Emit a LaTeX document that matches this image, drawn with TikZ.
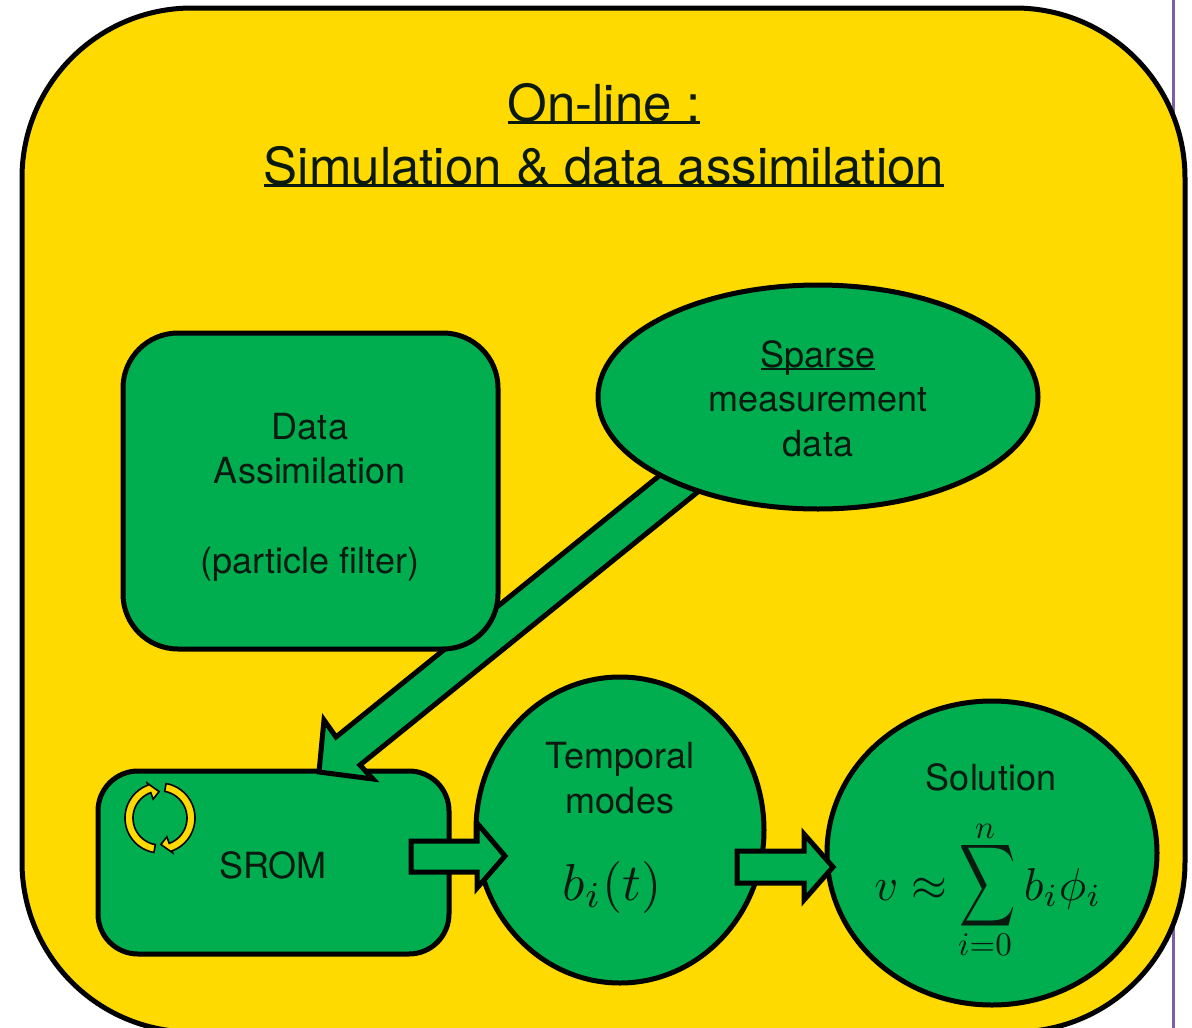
\documentclass[tikz,border=0pt]{standalone}
\usepackage{fontspec}
\setmainfont{TeX Gyre Heros}
\definecolor{boxyellow}{HTML}{FFDA00}
\definecolor{boxgreen}{HTML}{00AE50}
\definecolor{rulepurple}{HTML}{7B5FA8}
\definecolor{inktext}{HTML}{0A1A10}
\newsavebox{\ulbox}
\newcommand{\ulined}[2]{\sbox{\ulbox}{#1}\rlap{\rule[#2]{\wd\ulbox}{0.055em}}\usebox{\ulbox}}
\tikzset{
  x=1pt,y=-1pt,
  outline/.style={draw=black,line width=5pt,fill=boxgreen,inner sep=0pt,outer sep=0pt,line join=miter},
  panel/.style={outline,fill=boxyellow,rectangle,rounded corners=170pt},
  roundbox/.style={outline,rectangle},
  oval/.style={outline,ellipse},
  label/.style={anchor=base,inner sep=0pt,text=inktext},
  mid/.style={label,font=\fontsize{36}{36}\selectfont},
  big/.style={label,font=\fontsize{51}{51}\selectfont},
}
\usetikzlibrary{shapes.geometric}
\begin{document}
\begin{tikzpicture}
\useasboundingbox (0,0) rectangle (1192,1028);
\clip (0,0) rectangle (1192,1028);
\fill[white] (0,0) rectangle (1192,1028);
\coordinate (ruletop) at (1173,0);
\coordinate (rulebot) at (1173,1028);
\draw[rulepurple,line width=3pt] (ruletop) -- (rulebot);
\node[panel,minimum width=1163pt,minimum height=1024pt] (panel) at (603.5,520) {};
\node[big] (title1) at (604,121) {\ulined{On-line :}{-3pt}};
\node[big] (title2) at (604,184) {\ulined{Simulation \& data assimilation}{-3pt}};
% SROM box, then block arrow, then upper shapes
\node[roundbox,rounded corners=40pt,minimum width=351pt,minimum height=183pt] (srom) at (273.5,862.5) {};
\coordinate (bigtip) at (319,772);
\draw[outline] (720,474) -- (360,765) -- (373,779) -- (bigtip) -- (324,720) -- (336,737) -- (680,459) -- cycle;
\node[roundbox,rounded corners=55pt,minimum width=375pt,minimum height=316pt] (assim) at (310.5,491) {};
\node[oval,minimum width=440pt,minimum height=224pt] (sparse) at (818,397) {};
\node[oval,minimum width=288pt,minimum height=306pt] (temporal) at (620,830) {};
\node[oval,minimum width=330pt,minimum height=304pt] (solution) at (992,853) {};
% small block arrows
\draw[outline] (411,841) -- (477,841) -- (477,823) -- (505,856) -- (477,888) -- (477,872) -- (411,872) -- cycle;
\draw[outline] (737,851) -- (804,851) -- (804,834) -- (833,867) -- (804,900) -- (804,883) -- (737,883) -- cycle;
% cycle icon
\foreach \rt in {0,180}{
  \draw[draw=black,line width=1.6pt,fill=boxyellow,line join=miter]
    plot[domain=100:250,samples=30,smooth] ({160+35*cos(\x+\rt)},{818+35*sin(\x+\rt)})
    -- ({160+37*cos(250+\rt)},{818+37*sin(250+\rt)})
    -- ({160+26.5*cos(268+\rt)},{818+26.5*sin(268+\rt)})
    -- ({160+20*cos(250+\rt)},{818+20*sin(250+\rt)})
    -- ({160+27*cos(250+\rt)},{818+27*sin(250+\rt)})
    -- plot[domain=250:100,samples=30,smooth] ({160+27*cos(\x+\rt)},{818+27*sin(\x+\rt)})
    -- cycle;
}
\node[mid] (t1) at (310,439) {Data};
\node[mid] (t2) at (310,483) {Assimilation};
\node[mid] (t3) at (310,573) {(particle filter)};
\node[mid] (t4) at (818,367) {\ulined{Sparse}{-2.5pt}};
\node[mid] (t5) at (818,411) {measurement};
\node[mid] (t6) at (818,456) {data};
\node[mid] (t7) at (620,768) {Temporal};
\node[mid] (t8) at (620,813) {modes};
\node[mid] (t9) at (273,878) {SROM};
\node[mid] (t10) at (991,790) {Solution};
\node[label] (m1) at (612,900) {\scalebox{5.2}{$b_i(t)$}};
\node[label] (m2) at (988,900) {\scalebox{4.6}{$v\approx\mathop{\scalebox{0.85}[1.25]{$\displaystyle\sum$}}b_i\phi_i$}};
\node[label] (m3) at (985,838) {\scalebox{3.3}{$n$}};
\node[label] (m4) at (985,955) {\scalebox{3.3}{$i{=}0$}};
\end{tikzpicture}
\end{document}
